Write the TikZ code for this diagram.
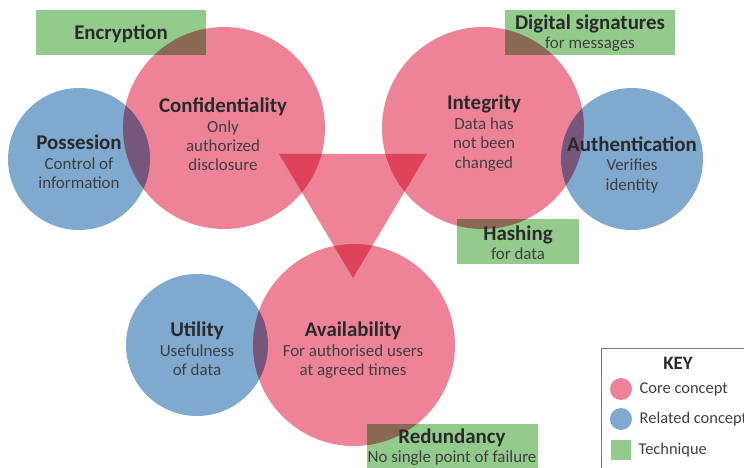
\documentclass[tikz,border=0pt]{standalone}
\usepackage{fontspec}
\setmainfont{Carlito}
\usetikzlibrary{positioning}

\definecolor{corepink}{HTML}{EE8398}
\definecolor{relblue}{HTML}{7FA9CF}
\definecolor{techgreen}{HTML}{93CB8D}
\definecolor{txtdark}{HTML}{2A2A2A}
\definecolor{txtgray}{HTML}{3F3F3F}
\definecolor{keygray}{HTML}{7A7A7A}

\begin{document}
\begin{tikzpicture}[x=1bp,y=-1bp]
    \tikzstyle{concept}=[circle,inner sep=0pt,blend mode=multiply]
    \tikzstyle{core concept}=[concept,fill=corepink,minimum size=202bp]
    \tikzstyle{related concept}=[concept,fill=relblue,minimum size=142bp]
    \tikzstyle{technique}=[rectangle,fill=techgreen,inner sep=0pt,anchor=north west,blend mode=multiply]
    \tikzstyle{annot}=[align=center,text=txtgray,font=\fontsize{17}{19.5}\selectfont]
    \tikzstyle{head}=[text=txtdark,font=\bfseries\fontsize{21}{19.5}\selectfont]
    \newcommand{\hd}[1]{\textcolor{txtdark}{\bfseries\fontsize{21}{19.5}\selectfont #1}}

    \useasboundingbox (0,0) rectangle (744,468);
    \clip (0,0) rectangle (744,468);

% Shapes
    % Core concepts
    \node[core concept] (conf) at (224,128) {};
    \node[core concept] (integ) at (483,128) {};
    \node[core concept] (avail) at (354,345) {};

    % Related concepts
    \node[related concept] (poss) at (79,159) {};
    \node[related concept] (auth) at (632,159) {};
    \node[related concept] (util) at (197,345) {};

    % Triangle between the core concepts
    \fill[corepink,blend mode=multiply] (279,154) -- (427,154) -- (353,278) -- cycle;

    % Techniques
    \node[technique,minimum width=170bp,minimum height=45bp] (encr) at (36,10) {};
    \node[technique,minimum width=170bp,minimum height=45bp] (sign) at (505,10) {};
    \node[technique,minimum width=122bp,minimum height=45bp] (hash) at (457,219) {};
    \node[technique,minimum width=171bp,minimum height=50bp] (redu) at (367,424) {};

% Texts
    % Core concepts
    \node[annot] (conf-t) at (223,134.5) {\hd{Confidentiality}\\Only\\authorized\\disclosure};
    \node[annot] (integ-t) at (484,133) {\hd{Integrity}\\Data has\\not been\\changed};
    \node[annot] (avail-t) at (353,350.5) {\hd{Availability}\\For authorised users\\at agreed times};

    % Related concepts
    \node[annot] (poss-t) at (79,162) {\hd{Possesion}\\Control of\\information};
    \node[annot] (auth-t) at (632,165) {\hd{Authentication}\\Verifies\\identity};
    \node[annot] (util-t) at (197,349) {\hd{Utility}\\Usefulness\\of data};

    % Techniques
    \node[head] at (121,34) {Encryption};
    \node[annot] at (590,33) {\hd{Digital signatures}\\for messages};
    \node[annot] at (518,243) {\hd{Hashing}\\for data};
    \node[annot] at (452,447) {\hd{Redundancy}\\No single point of failure};

% Key
    \draw[keygray,line width=1bp] (601,480) -- (601,348) -- (760,348);
    \node[head,font=\bfseries\fontsize{19}{19}\selectfont] (key) at (678,363) {KEY};
    \foreach \name/\y/\col in {core/389/corepink,rel/419/relblue}
        \node[circle,fill=\col,minimum size=22bp,inner sep=0pt] (key-\name) at (621,\y) {};
    \node[rectangle,fill=techgreen,minimum size=20bp,inner sep=0pt] (key-tech) at (621,450) {};
    \foreach \name/\txt in {core/Core concept,rel/Related concept,tech/Technique}
        \node[anchor=west,text=txtgray,font=\fontsize{16.5}{19}\selectfont] at ([xshift=4bp]key-\name.east) {\txt};

\end{tikzpicture}
\end{document}
